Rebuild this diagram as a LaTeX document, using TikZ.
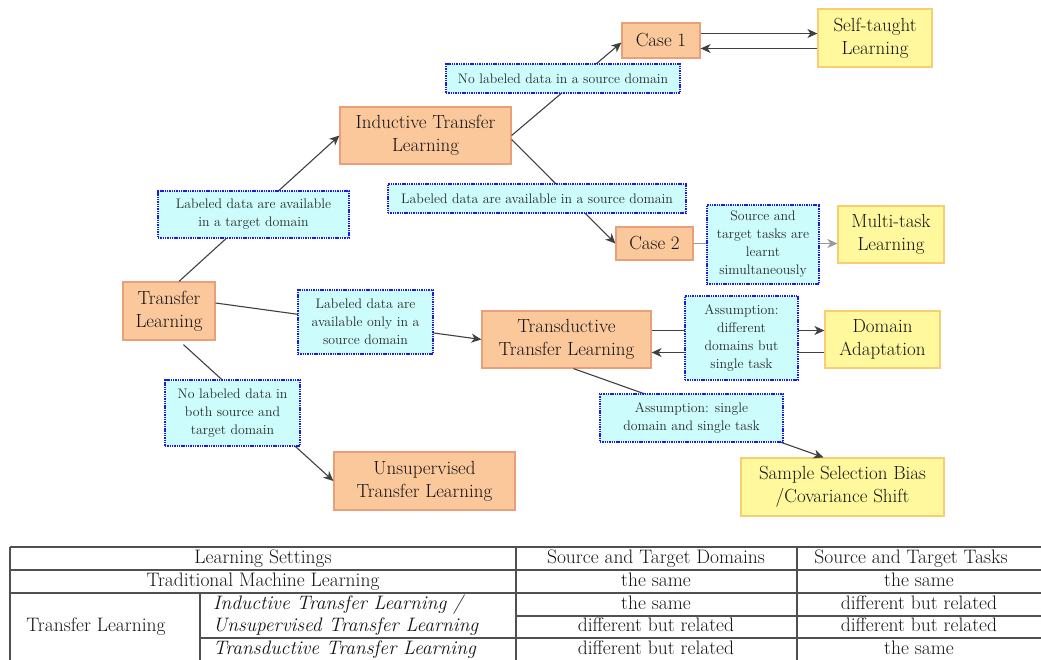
\documentclass[tikz,border=0pt]{standalone}
\usetikzlibrary{arrows.meta}

\definecolor{procfill}{HTML}{FBC89C}
\definecolor{procdraw}{HTML}{E8A07A}
\definecolor{outfill}{HTML}{FFF89C}
\definecolor{outdraw}{HTML}{F7CE72}
\definecolor{condfill}{HTML}{CCFCFC}
\definecolor{conddraw}{HTML}{1A1AF0}
\definecolor{txt}{HTML}{141414}
\definecolor{condtxt}{HTML}{2A2A2A}
\definecolor{wire}{HTML}{404040}
\definecolor{rule}{HTML}{505050}

\tikzset{
  box/.style={align=center, inner sep=0pt, text=txt, line width=1.2pt,
    font=\fontsize{19}{23}\selectfont},
  proc/.style={box, fill=procfill, draw=procdraw},
  outc/.style={box, fill=outfill, draw=outdraw},
  cond/.style={align=center, inner sep=0pt, text=condtxt, fill=condfill,
    draw=conddraw, line width=2pt, dash pattern=on 1.4pt off 0.9pt,
    font=\fontsize{13.8}{18}\selectfont},
  conn/.style={draw=wire, line width=1.1pt,
    -{Stealth[length=10pt,width=9pt,inset=3pt]}},
  cell/.style={inner sep=0pt, text=txt, font=\fontsize{19.5}{23}\selectfont,
    text height=13pt, text depth=4pt},
  icell/.style={cell, anchor=west, font=\fontsize{19.5}{23}\selectfont\itshape},
  tline/.style={draw=rule, line width=1.3pt}
}

\begin{document}
\begin{tikzpicture}[x=1pt,y=-1pt]
\useasboundingbox (0,0) rectangle (1041,659);

% ---- learning settings (boxes) ----
\node[proc, minimum width=92pt,  minimum height=58pt] (tl)    at (169,311)   {Transfer\\Learning};
\node[proc, minimum width=171pt, minimum height=57pt] (ind)   at (425.5,135.5) {Inductive Transfer\\Learning};
\node[proc, minimum width=78pt,  minimum height=35pt] (c1)    at (661,40.5)  {Case 1};
\node[proc, minimum width=77pt,  minimum height=33pt] (c2)    at (654.5,243.5) {Case 2};
\node[proc, minimum width=169pt, minimum height=57pt] (trans) at (566.5,339.5) {Transductive\\Transfer Learning};
\node[proc, minimum width=181pt, minimum height=58pt] (uns)   at (424.5,481) {Unsupervised\\Transfer Learning};

\node[outc, minimum width=114pt, minimum height=58pt] (st) at (875,38)    {Self-taught\\Learning};
\node[outc, minimum width=106pt, minimum height=57pt] (mt) at (891,234.5) {Multi-task\\Learning};
\node[outc, minimum width=115pt, minimum height=57pt] (da) at (882.5,339.5) {Domain\\Adaptation};
\node[outc, minimum width=203pt, minimum height=58pt] (ss) at (842.5,487) {Sample Selection Bias\\/Covariance Shift};

% ---- connectors ----
\draw[conn] ([xshift=10pt]tl.north) -- (ind.west);
\draw[conn] ([yshift=8pt]tl.east) -- (trans.west);
\draw[conn, shorten <=6pt] ([xshift=10pt]tl.south) -- (uns.west);
\draw[conn] (ind.east) -- ([yshift=-2pt]c1.west);
\draw[conn] ([yshift=-4pt]ind.east) -- (c2.west);
\draw[conn] ([yshift=7pt]c1.east) -- ([yshift=7pt]c1.east -| st.west);
\draw[conn] ([yshift=-8pt]c1.east -| st.west) -- ([yshift=-8pt]c1.east);
\draw[conn, draw=gray!80] (c2.east) -- (c2.east -| mt.west);
\draw[conn] ([yshift=9pt]trans.east) -- ([yshift=9pt]trans.east -| da.west);
\draw[conn] ([yshift=-13pt]trans.east -| da.west) -- ([yshift=-13pt]trans.east);
\draw[conn] ([xshift=7pt]trans.south) -- ([xshift=-19pt]ss.north);

% ---- conditions on the connectors ----
\node[cond, minimum width=191pt, minimum height=47pt] (k1) at (253.5,214.5) {Labeled data are available\\in a target domain};
\node[cond, minimum width=234pt, minimum height=29pt] (k2) at (563,78.5) {No labeled data in a source domain};
\node[cond, minimum width=298pt, minimum height=29pt] (k3) at (537,198.5) {Labeled data are available in a source domain};
\node[cond, minimum width=112pt, minimum height=79pt] (k4) at (763,244.5) {Source and\\target tasks are\\learnt\\simultaneously};
\node[cond, minimum width=135pt, minimum height=64pt] (k5) at (365.5,322) {Labeled data are\\available only in a\\source domain};
\node[cond, minimum width=113pt, minimum height=84pt] (k6) at (741.5,338) {Assumption:\\different\\domains but\\single task};
\node[cond, minimum width=135pt, minimum height=66pt] (k7) at (232.5,413) {No labeled data in\\both source and\\target domain};
\node[cond, minimum width=183pt, minimum height=48pt] (k8) at (691.5,418) {Assumption: single\\domain and single task};

% ---- summary table ----
\draw[tline] (10,547) -- (1041,547);
\draw[tline] (10,570) -- (1041,570);
\draw[tline] (10,593) -- (1041,593);
\draw[tline] (516,616) -- (1041,616);
\draw[tline] (200,638) -- (1041,638);
\draw[tline] (10,547) -- (10,662);
\draw[tline] (200,593) -- (200,662);
\draw[tline] (516,547) -- (516,662);
\draw[tline] (797,547) -- (797,662);

\node[cell] (h1) at (263,558.5) {Learning Settings};
\node[cell] (h2) at (656,558.5) {Source and Target Domains};
\node[cell] (h3) at (911,558.5) {Source and Target Tasks};
\node[cell] (r1a) at (263,581.5) {Traditional Machine Learning};
\node[cell] (r1b) at (656,581.5) {the same};
\node[cell] (r1c) at (919,581.5) {the same};
\node[cell] (tlc) at (96,627) {Transfer Learning};
\node[icell] (r2a) at (213,604.5) {Inductive Transfer Learning /};
\node[icell] (r3a) at (213,627) {Unsupervised Transfer Learning};
\node[icell] (r4a) at (213,649.5) {Transductive Transfer Learning};
\node[cell] (r2b) at (656,604.5) {the same};
\node[cell] (r2c) at (919,604.5) {different but related};
\node[cell] (r3b) at (656,627) {different but related};
\node[cell] (r3c) at (919,627) {different but related};
\node[cell] (r4b) at (656,649.5) {different but related};
\node[cell] (r4c) at (919,649.5) {the same};
\end{tikzpicture}
\end{document}
